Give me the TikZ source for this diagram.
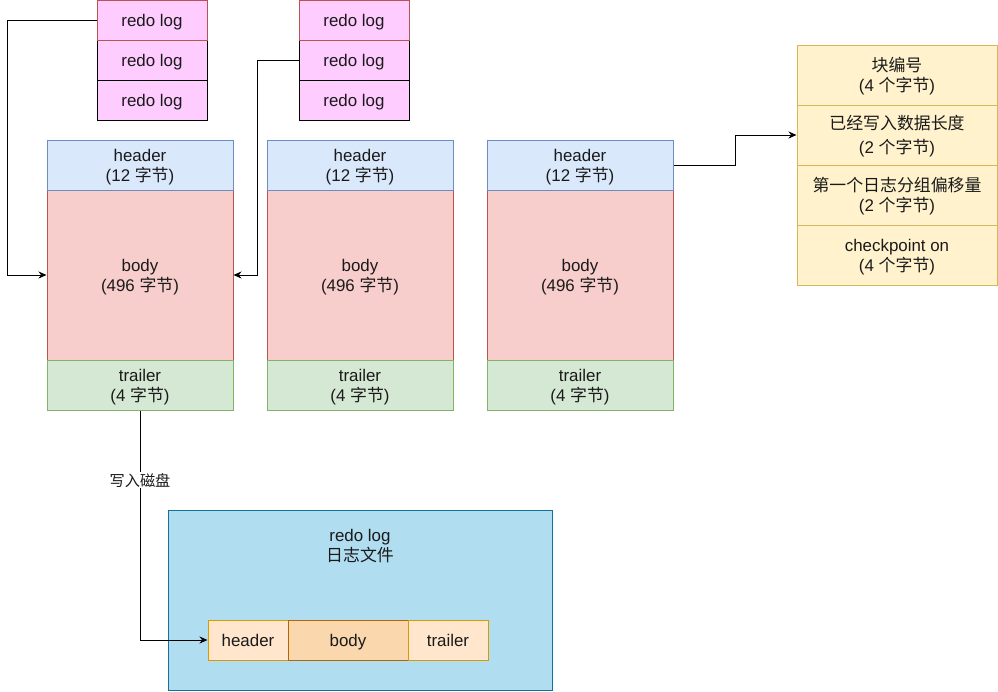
\documentclass[tikz,border=0pt]{standalone}
\usepackage{fontspec}
\setmainfont{Liberation Sans}
\newfontfamily\cjk{Noto Sans CJK SC}
\usetikzlibrary{arrows.meta}
\newcommand\myfs{\fontsize{16.9}{20}\selectfont}
\newcommand\strA{\rule{0pt}{16.4pt}}
\newcommand\strB{\rule[-3.4pt]{0pt}{3.4pt}}
\definecolor{txt}{HTML}{1A1A1A}
\definecolor{pinkf}{HTML}{FFCCFF}
\definecolor{redd}{HTML}{B85450}
\definecolor{redf}{HTML}{F8CECC}
\definecolor{blued}{HTML}{6C8EBF}
\definecolor{bluef}{HTML}{DAE8FC}
\definecolor{greend}{HTML}{82B366}
\definecolor{greenf}{HTML}{D5E8D4}
\definecolor{yeld}{HTML}{D6B656}
\definecolor{yelf}{HTML}{FFF2CC}
\definecolor{diskd}{HTML}{10739E}
\definecolor{diskf}{HTML}{B1DDF0}
\definecolor{orad}{HTML}{D79B00}
\definecolor{oraf}{HTML}{FFE6CC}
\definecolor{bodyd}{HTML}{B46504}
\definecolor{bodyf}{HTML}{FAD7AC}
\tikzset{
  cell/.style={draw, line width=1pt, inner sep=0pt, align=center, font=\myfs, text=txt},
  redo/.style={cell, fill=pinkf, draw=black, minimum width=110pt, minimum height=40pt},
  hdr/.style={cell, fill=bluef, draw=blued, minimum width=186pt, minimum height=50pt},
  bdy/.style={cell, fill=redf, draw=redd, minimum width=186pt, minimum height=170pt},
  trl/.style={cell, fill=greenf, draw=greend, minimum width=186pt, minimum height=50pt},
  pan/.style={cell, fill=yelf, draw=yeld, minimum width=200pt, minimum height=60pt},
  conn/.style={line width=1pt, draw=black, -{Stealth[length=8pt,width=7pt]}},
}
\begin{document}
\begin{tikzpicture}[x=1pt,y=-1pt]
\useasboundingbox (0,0) rectangle (998,691);
% redo log groups
\node[redo] (r1b) at (152,60) {\strA redo log\strB};
\node[redo] (r1c) at (152,100) {\strA redo log\strB};
\node[redo, draw=redd] (r1a) at (152,20) {\strA redo log\strB};
\node[redo] (r2b) at (354,60) {\strA redo log\strB};
\node[redo] (r2c) at (354,100) {\strA redo log\strB};
\node[redo, draw=redd] (r2a) at (354,20) {\strA redo log\strB};
% blocks
\foreach \i/\x in {1/140,2/360,3/580}{
  \node[bdy] (b\i) at (\x,275) {\strA body\\(496 {\cjk 字节})\strB};
  \node[hdr] (h\i) at (\x,165) {\strA header\\(12 {\cjk 字节})\strB};
  \node[trl] (t\i) at (\x,385) {\strA trailer\\(4 {\cjk 字节})\strB};
}
% header panel
\node[pan] (p1) at (897,75) {\strA{\cjk 块编号}\\(4 {\cjk 个字节})\strB};
\node[pan, font={\fontsize{16.9}{24}\selectfont}] (p2) at (897,135) {\strA{\cjk 已经写入数据长度}\\(2 {\cjk 个字节})\strB};
\node[pan] (p3) at (897,195) {\strA{\cjk 第一个日志分组偏移量}\\(2 {\cjk 个字节})\strB};
\node[pan] (p4) at (897,255) {\strA checkpoint on\\(4 {\cjk 个字节})\strB};
% disk file
\node[cell, fill=diskf, draw=diskd, minimum width=384pt, minimum height=180pt] (disk) at (360,600) {};
\node[font=\myfs, text=txt, align=center, inner sep=0pt] (disklbl) at (360,546) {redo log\\{\cjk 日志文件}};
\node[cell, fill=oraf, draw=orad, minimum width=80pt, minimum height=40pt] (dh) at (248,640) {\strA header\strB};
\node[cell, fill=bodyf, draw=bodyd, minimum width=120pt, minimum height=40pt] (db) at (348,640) {\strA body\strB};
\node[cell, fill=oraf, draw=orad, minimum width=80pt, minimum height=40pt] (dt) at (448,640) {\strA trailer\strB};
% connectors
\draw[conn] (r1a.west) -- ++(-89,0) |- (b1.west);
\draw[conn] (r2b.west) -- ++(-41,0) |- (b1.east);
\draw[conn] (h3.east) -- ++(62,0) |- (p2.west);
\draw[conn] (t1.south) |- (dh.west) node[pos=0.152, fill=white, inner sep=1pt, font={\fontsize{15.2}{18}\selectfont}, text=txt] (wlbl) {\cjk 写入磁盘};
\end{tikzpicture}
\end{document}
